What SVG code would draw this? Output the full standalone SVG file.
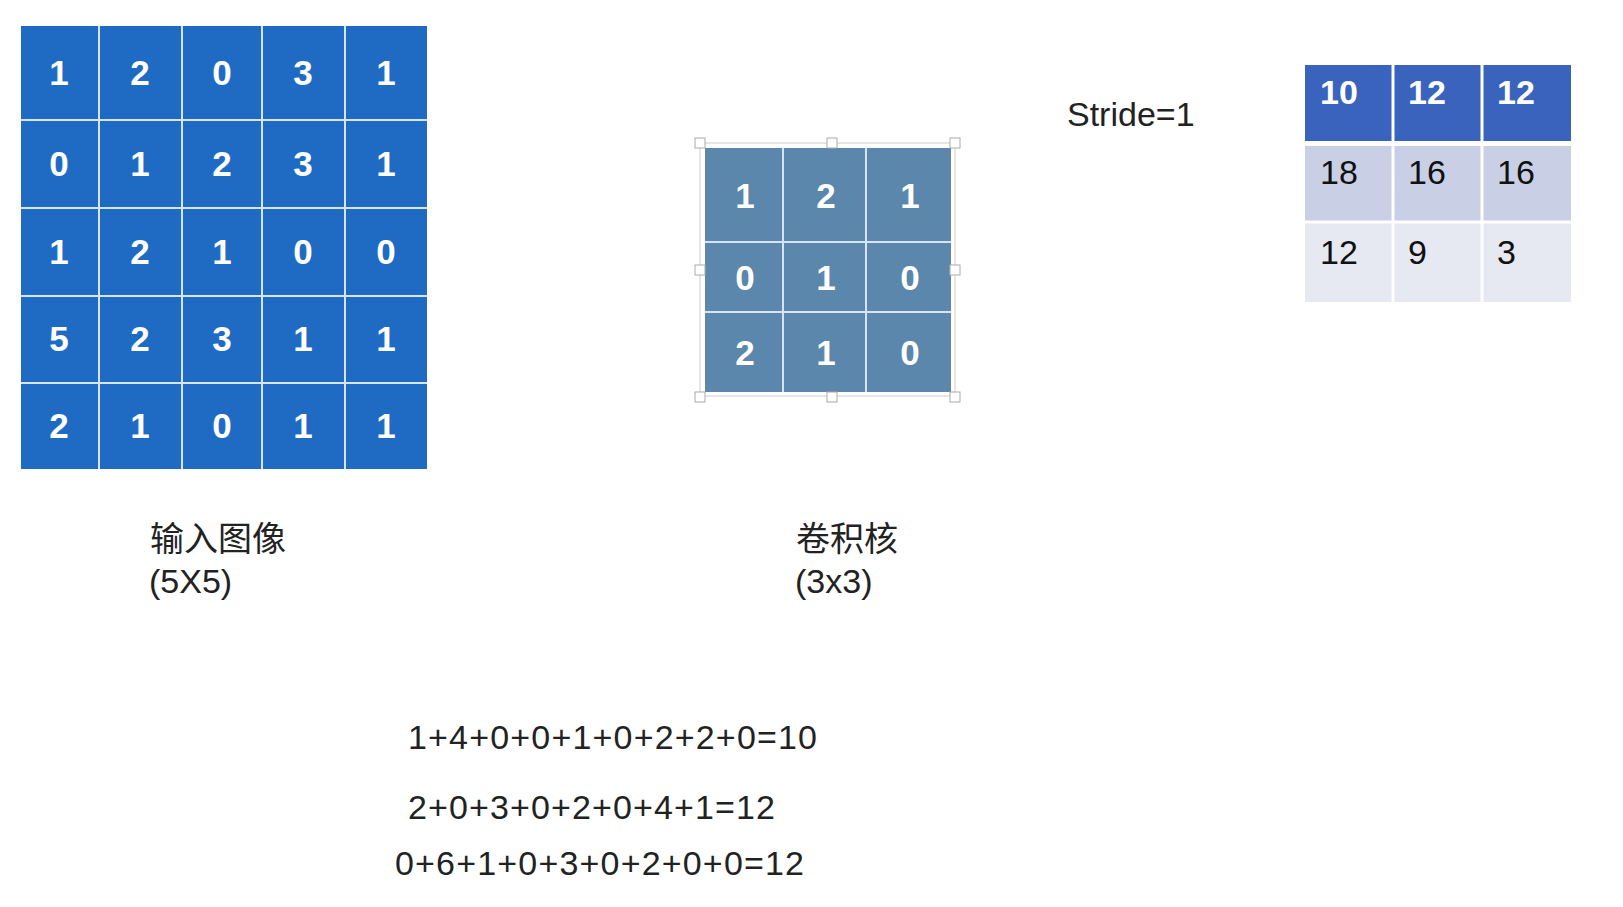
<svg xmlns="http://www.w3.org/2000/svg" width="1623" height="907" viewBox="0 0 1623 907">
<style>
.in{fill:#1F6BC4}
.k{fill:#5B87AC}
.g{stroke:#D6E4F5;stroke-width:2}
.b{font-family:"Liberation Sans",Arial,sans-serif;font-weight:bold;font-size:35px;fill:#fff;text-anchor:middle}
.o{font-family:"Liberation Sans",Arial,sans-serif;font-size:34px}
.t{font-family:"Liberation Sans","Noto Sans CJK SC",sans-serif;font-size:34px;fill:#222}
.h{fill:#fff;stroke:#AAA;stroke-width:1}
</style>
<rect width="1623" height="907" fill="#fff"/>
<g id="input">
<rect class="in" x="21" y="26" width="406" height="443"/>
<g class="g">
<line x1="99" y1="26" x2="99" y2="469"/><line x1="182" y1="26" x2="182" y2="469"/><line x1="262" y1="26" x2="262" y2="469"/><line x1="345" y1="26" x2="345" y2="469"/>
<line x1="21" y1="120" x2="427" y2="120"/><line x1="21" y1="208" x2="427" y2="208"/><line x1="21" y1="296" x2="427" y2="296"/><line x1="21" y1="383" x2="427" y2="383"/>
</g>
<g class="b">
<text x="59" y="85">1</text><text x="140" y="85">2</text><text x="222" y="85">0</text><text x="303" y="85">3</text><text x="386" y="85">1</text>
<text x="59" y="176">0</text><text x="140" y="176">1</text><text x="222" y="176">2</text><text x="303" y="176">3</text><text x="386" y="176">1</text>
<text x="59" y="264">1</text><text x="140" y="264">2</text><text x="222" y="264">1</text><text x="303" y="264">0</text><text x="386" y="264">0</text>
<text x="59" y="351">5</text><text x="140" y="351">2</text><text x="222" y="351">3</text><text x="303" y="351">1</text><text x="386" y="351">1</text>
<text x="59" y="438">2</text><text x="140" y="438">1</text><text x="222" y="438">0</text><text x="303" y="438">1</text><text x="386" y="438">1</text>
</g>
</g>
<g id="kernel">
<rect x="700" y="143" width="255" height="253" fill="none" stroke="#fff" stroke-width="3"/>
<rect x="700" y="143" width="255" height="253" fill="none" stroke="#CCC" stroke-width="1"/>
<rect class="k" x="705" y="148" width="246" height="244"/>
<g class="g">
<line x1="783" y1="148" x2="783" y2="392"/><line x1="866" y1="148" x2="866" y2="392"/>
<line x1="705" y1="242" x2="951" y2="242"/><line x1="705" y1="312" x2="951" y2="312"/>
</g>
<g class="h">
<rect x="695" y="138" width="10" height="10"/><rect x="827" y="138" width="10" height="10"/><rect x="950" y="138" width="10" height="10"/>
<rect x="695" y="265" width="10" height="10"/><rect x="950" y="265" width="10" height="10"/>
<rect x="695" y="392" width="10" height="10"/><rect x="827" y="392" width="10" height="10"/><rect x="950" y="392" width="10" height="10"/>
</g>
<g class="b">
<text x="745" y="208">1</text><text x="826" y="208">2</text><text x="910" y="208">1</text>
<text x="745" y="290">0</text><text x="826" y="290">1</text><text x="910" y="290">0</text>
<text x="745" y="365">2</text><text x="826" y="365">1</text><text x="910" y="365">0</text>
</g>
</g>
<g id="output">
<rect x="1305" y="65" width="266" height="76" fill="#3A63BE"/>
<rect x="1305" y="146" width="266" height="76" fill="#C9D0E6"/>
<rect x="1305" y="222" width="266" height="80" fill="#E6E8F2"/>
<g stroke="#fff" stroke-width="3">
<line x1="1393" y1="65" x2="1393" y2="302"/><line x1="1482" y1="65" x2="1482" y2="302"/>
<line x1="1305" y1="143" x2="1571" y2="143"/><line x1="1305" y1="222" x2="1571" y2="222"/>
</g>
<g class="o" fill="#fff" font-weight="bold">
<text x="1320" y="104">10</text><text x="1408" y="104">12</text><text x="1497" y="104">12</text>
</g>
<g class="o" fill="#111">
<text x="1320" y="184">18</text><text x="1408" y="184">16</text><text x="1497" y="184">16</text>
<text x="1320" y="264">12</text><text x="1408" y="264">9</text><text x="1497" y="264">3</text>
</g>
</g>
<g id="labels" class="t">
<text x="150" y="551">输入图像</text>
<text x="149" y="593">(5X5)</text>
<text x="796" y="551">卷积核</text>
<text x="795" y="593">(3x3)</text>
<text x="1067" y="126">Stride=1</text>
<text x="408" y="749" textLength="409">1+4+0+0+1+0+2+2+0=10</text>
<text x="408" y="819" textLength="367">2+0+3+0+2+0+4+1=12</text>
<text x="395" y="875" textLength="409">0+6+1+0+3+0+2+0+0=12</text>
</g>
</svg>
